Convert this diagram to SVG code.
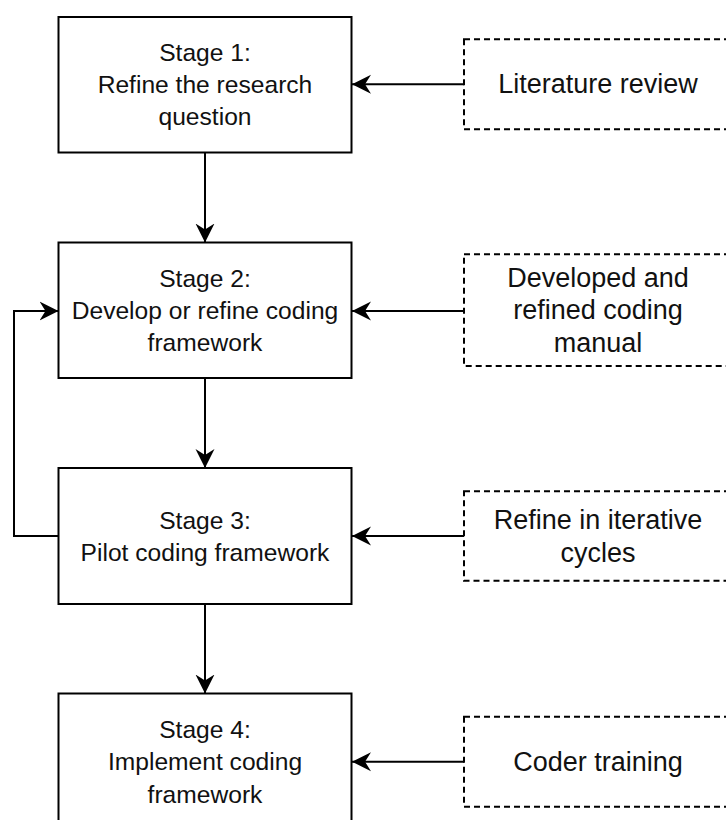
<svg xmlns="http://www.w3.org/2000/svg" width="726" height="820" viewBox="0 0 726 820">
  <style>
    .stage { fill: #ffffff; stroke: #000000; stroke-width: 2; }
    .src { fill: #ffffff; stroke: #000000; stroke-width: 2; stroke-dasharray: 6 4; }
    .edge { fill: none; stroke: #000000; stroke-width: 2; marker-end: url(#arrow); }
    .lt { font-family: "Liberation Sans", Arial, sans-serif; font-size: 24.6px; fill: #111111; text-anchor: middle; }
    .rt { font-family: "Liberation Sans", Arial, sans-serif; font-size: 27px; fill: #111111; text-anchor: middle; }
  </style>
  <defs>
    <marker id="arrow" viewBox="0 0 20 20" markerWidth="20" markerHeight="20" markerUnits="userSpaceOnUse" refX="19" refY="10" orient="auto">
      <path d="M19,10 L0,0.5 L6,10 L0,19.5 Z" fill="#000000"/>
    </marker>
  </defs>
  <rect width="726" height="820" fill="#ffffff"/>

  <g id="connectors">
    <line class="edge" x1="205" y1="152.5" x2="205" y2="242.5"/>
    <line class="edge" x1="205" y1="378" x2="205" y2="468"/>
    <line class="edge" x1="205" y1="604" x2="205" y2="693.5"/>
    <polyline class="edge" points="58.5,536 14,536 14,311 58.5,311"/>
    <line class="edge" x1="464" y1="84.3" x2="352" y2="84.3"/>
    <line class="edge" x1="464" y1="311" x2="352" y2="311"/>
    <line class="edge" x1="464" y1="536" x2="352" y2="536"/>
    <line class="edge" x1="464" y1="761.7" x2="352" y2="761.7"/>
  </g>

  <g id="stage1">
    <rect class="stage" x="58.5" y="17" width="293" height="135.5"/>
    <text class="lt" x="205" y="60.8">Stage 1:</text>
    <text class="lt" x="205" y="93.1">Refine the research</text>
    <text class="lt" x="205" y="125.4">question</text>
  </g>
  <g id="stage2">
    <rect class="stage" x="58.5" y="242.5" width="293" height="135.5"/>
    <text class="lt" x="205" y="286.8">Stage 2:</text>
    <text class="lt" x="205" y="318.8">Develop or refine coding</text>
    <text class="lt" x="205" y="351.4">framework</text>
  </g>
  <g id="stage3">
    <rect class="stage" x="58.5" y="468" width="293" height="136"/>
    <text class="lt" x="205" y="528.6">Stage 3:</text>
    <text class="lt" x="205" y="560.8">Pilot coding framework</text>
  </g>
  <g id="stage4">
    <rect class="stage" x="58.5" y="693.5" width="293" height="136"/>
    <text class="lt" x="205" y="738">Stage 4:</text>
    <text class="lt" x="205" y="770.3">Implement coding</text>
    <text class="lt" x="205" y="802.6">framework</text>
  </g>

  <g id="literature">
    <rect class="src" x="464" y="39.3" width="268" height="90"/>
    <text class="rt" x="598" y="93">Literature review</text>
  </g>
  <g id="manual">
    <rect class="src" x="464" y="254.3" width="268" height="111.7"/>
    <text class="rt" x="598" y="286.8">Developed and</text>
    <text class="rt" x="598" y="318.8">refined coding</text>
    <text class="rt" x="598" y="351.6">manual</text>
  </g>
  <g id="iterative">
    <rect class="src" x="464" y="491.3" width="268" height="89.5"/>
    <text class="rt" x="598" y="529.3">Refine in iterative</text>
    <text class="rt" x="598" y="561.6">cycles</text>
  </g>
  <g id="training">
    <rect class="src" x="464" y="716.7" width="268" height="90"/>
    <text class="rt" x="598" y="770.5">Coder training</text>
  </g>
</svg>
